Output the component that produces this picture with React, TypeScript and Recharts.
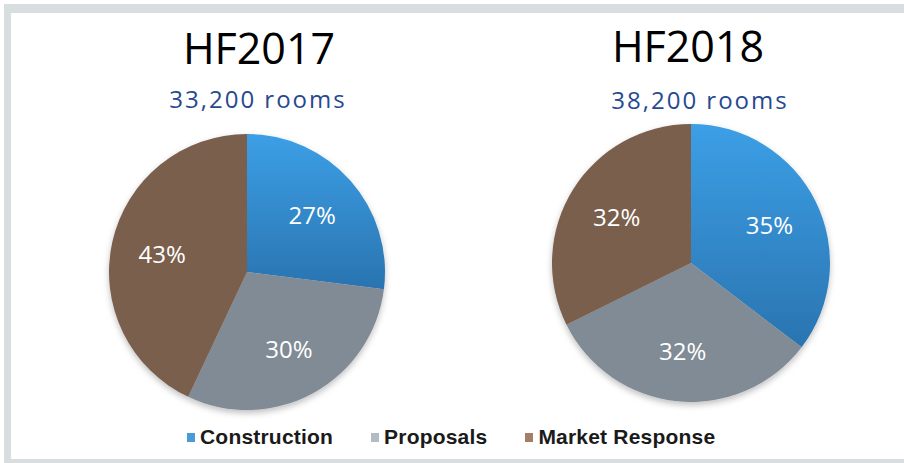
import React from 'react';
import { PieChart, Pie, Cell, Legend } from 'recharts';

const categories = ['Construction', 'Proposals', 'Market Response'];
const titles = ['HF2017', 'HF2018'];
const subtitles = ['33,200 rooms', '38,200 rooms'];
const values2017 = [27, 30, 43];
const values2018 = [35, 32, 32];

const sliceFills = ['url(#blueGrad)', '#808b95', '#7a5e4d'];
const legendColors = ['#4a9ad8', '#b3bbc3', '#a37f69'];

const data2017 = categories.map((name, i) => ({ name, value: values2017[i] }));
const data2018 = categories.map((name, i) => ({ name, value: values2018[i] }));

const RADIAN = Math.PI / 180;

const renderLabel = (props: any) => {
  const { cx, cy, midAngle, outerRadius, value } = props;
  const r = outerRadius * 0.63;
  const x = cx + r * Math.cos(-midAngle * RADIAN);
  const y = cy + r * Math.sin(-midAngle * RADIAN);
  return (
    <text
      x={x}
      y={y}
      fill="#ffffff"
      textAnchor="middle"
      dominantBaseline="central"
      style={{ fontFamily: '"Open Sans", sans-serif', fontSize: 24, fontWeight: 500 }}
    >
      {value}%
    </text>
  );
};

const renderLegend = () => (
  <div style={{ display: 'flex', gap: 38, fontFamily: 'Arial, "Liberation Sans", sans-serif', fontWeight: 'bold', fontSize: 21, letterSpacing: 0.2, color: '#1a1a1a' }}>
    {categories.map((c, i) => (
      <div key={c} style={{ display: 'flex', alignItems: 'center' }}>
        <span style={{ display: 'inline-block', width: 8, height: 9, background: legendColors[i], marginRight: 5 }} />
        <span>{c}</span>
      </div>
    ))}
  </div>
);

const titleStyle: React.CSSProperties = {
  position: 'absolute',
  width: 300,
  textAlign: 'center',
  fontFamily: '"Open Sans", sans-serif',
  fontSize: 43,
  color: '#000',
  lineHeight: '50px',
};

const subStyle: React.CSSProperties = {
  position: 'absolute',
  width: 300,
  textAlign: 'center',
  fontFamily: '"Open Sans", sans-serif',
  fontSize: 24,
  fontWeight: 500,
  letterSpacing: 2,
  color: '#27498f',
  lineHeight: '30px',
};

export default function App() {
  return (
    <div style={{ position: 'absolute', left: 0, top: 0, width: 904, height: 463, background: '#fff', overflow: 'hidden' }}>
      <div style={{ position: 'absolute', left: 4, top: 4, width: 900, height: 459, background: '#d8dde0' }} />
      <div style={{ position: 'absolute', left: 11, top: 13, width: 893, height: 446, background: '#fff' }} />
      <svg width={0} height={0} style={{ position: 'absolute' }}>
        <defs>
          <linearGradient id="blueGrad" x1="0" y1="0" x2="0" y2="1">
            <stop offset="0%" stopColor="#3c9fe6" />
            <stop offset="100%" stopColor="#2a74b0" />
          </linearGradient>
          <filter id="pieShadow" x="-20%" y="-20%" width="140%" height="140%">
            <feDropShadow dx="0" dy="3" stdDeviation="3" floodColor="#000" floodOpacity="0.25" />
          </filter>
        </defs>
      </svg>
      <style>{'.recharts-pie { filter: url(#pieShadow); }'}</style>
      <div style={{ ...titleStyle, left: 109, top: 23 }}>{titles[0]}</div>
      <div style={{ ...subStyle, left: 108, top: 84 }}>{subtitles[0]}</div>
      <div style={{ ...titleStyle, left: 538, top: 21 }}>{titles[1]}</div>
      <div style={{ ...subStyle, left: 550, top: 85 }}>{subtitles[1]}</div>
      <div style={{ position: 'absolute', left: 0, top: 0 }}>
        <PieChart width={904} height={463}>
          <Pie
            data={data2017}
            dataKey="value"
            nameKey="name"
            cx={242}
            cy={267}
            outerRadius={138}
            startAngle={90}
            endAngle={-270}
            stroke="none"
            label={renderLabel}
            labelLine={false}
            isAnimationActive={false}
          >
            {data2017.map((d, i) => (
              <Cell key={d.name} fill={sliceFills[i]} />
            ))}
          </Pie>
          <Pie
            data={data2018}
            dataKey="value"
            nameKey="name"
            cx={686}
            cy={258}
            outerRadius={139}
            startAngle={90}
            endAngle={-270}
            stroke="none"
            label={renderLabel}
            labelLine={false}
            isAnimationActive={false}
          >
            {data2018.map((d, i) => (
              <Cell key={d.name} fill={sliceFills[i]} />
            ))}
          </Pie>
          <Legend
            content={renderLegend}
            wrapperStyle={{ position: 'absolute', left: 187, top: 425, width: 620 }}
          />
        </PieChart>
      </div>
    </div>
  );
}
